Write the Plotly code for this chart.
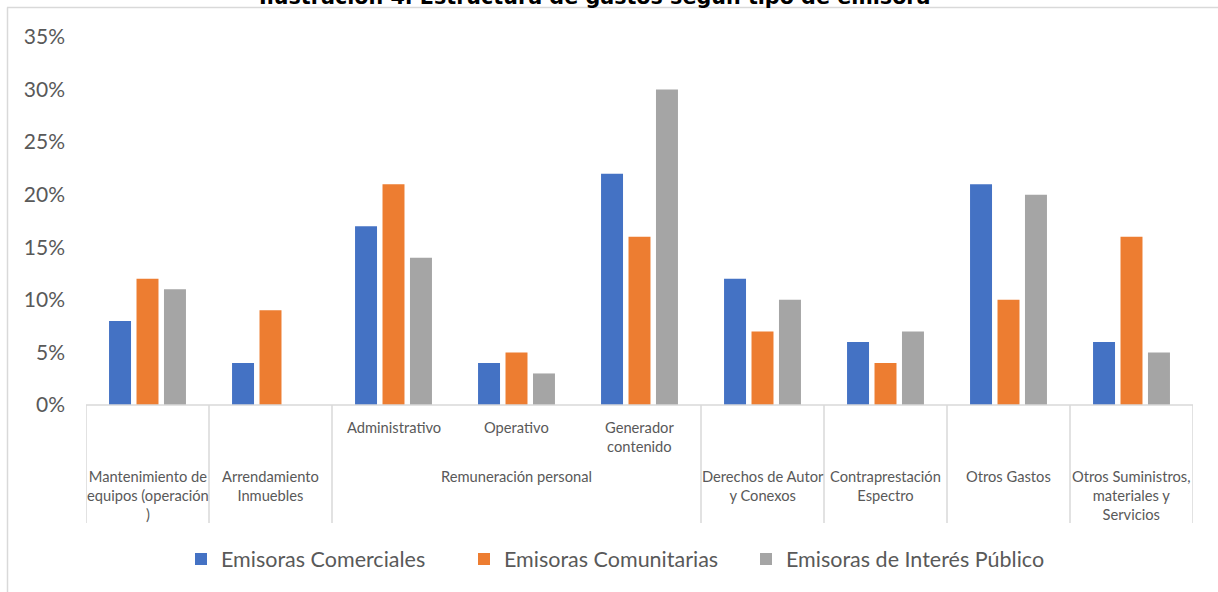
import plotly.graph_objects as go

# Expense categories (inner label, outer label)
inner_labels = ["", "", "Administrativo", "Operativo", "Generador<br>contenido", "", "", "", ""]
outer_groups = [
    ("Mantenimiento de<br>equipos (operación<br>)", 0, 0),
    ("Arrendamiento<br>Inmuebles", 1, 1),
    ("Remuneración personal", 2, 4),
    ("Derechos de Autor<br>y Conexos", 5, 5),
    ("Contraprestación<br>Espectro", 6, 6),
    ("Otros Gastos", 7, 7),
    ("Otros Suministros,<br>materiales y<br>Servicios", 8, 8),
]
categories = ["Mantenimiento", "Arrendamiento", "Administrativo", "Operativo",
              "Generador contenido", "Derechos de Autor", "Contraprestación",
              "Otros Gastos", "Otros Suministros"]

comerciales = [0.08, 0.04, 0.17, 0.04, 0.22, 0.12, 0.06, 0.21, 0.06]
comunitarias = [0.12, 0.09, 0.21, 0.05, 0.16, 0.07, 0.04, 0.10, 0.16]
interes_publico = [0.11, None, 0.14, 0.03, 0.30, 0.10, 0.07, 0.20, 0.05]

series = [
    ("Emisoras Comerciales", comerciales, "#4472C4"),
    ("Emisoras Comunitarias", comunitarias, "#ED7D31"),
    ("Emisoras de Interés Público", interes_publico, "#A5A5A5"),
]

FONT = "Lato"
GRID = "#D9D9D9"
TEXT = "#595959"

W, L, R = 1218, 86, 25
H, T, B = 592, 37, 187
pw = W - L - R
ph = H - T - B
def py(px):
    return (H - B - px) / ph
def px_(x):
    return (x - L) / pw

# one legend box per series, laid out in a row under the chart
legend_ids = ["legend", "legend2", "legend3"]
legend_left = [181, 464, 746]

fig = go.Figure()
for (name, vals, color), lid in zip(series, legend_ids):
    fig.add_trace(go.Bar(
        x=list(range(len(categories))), y=vals, name=name,
        marker=dict(color=color, line=dict(width=0)),
        hovertext=categories, legend=lid,
    ))

shapes = []
# category table: baseline and vertical dividers
shapes.append(dict(type="line", xref="x", yref="paper", x0=-0.5, x1=8.5, y0=0, y1=0,
                   line=dict(color=GRID, width=1.5)))
for b in [-0.5, 0.5, 1.5, 4.5, 5.5, 6.5, 7.5, 8.5]:
    shapes.append(dict(type="line", xref="x", yref="paper", x0=b, x1=b,
                       y0=0, y1=py(523), line=dict(color=GRID, width=1.5)))
# outer chart border
shapes.append(dict(type="line", xref="paper", yref="paper",
                   x0=px_(7), x1=px_(1220), y0=py(7.5), y1=py(7.5),
                   line=dict(color=GRID, width=1.5)))
shapes.append(dict(type="line", xref="paper", yref="paper",
                   x0=px_(7.5), x1=px_(7.5), y0=py(7.5), y1=py(600),
                   line=dict(color=GRID, width=1.5)))

annotations = []
for i, lab in enumerate(inner_labels):
    if lab:
        annotations.append(dict(x=i, y=py(416), xref="x", yref="paper", text=lab,
                                showarrow=False, yanchor="top",
                                font=dict(family=FONT, size=14.7, color=TEXT)))
for lab, a, b in outer_groups:
    annotations.append(dict(x=(a + b) / 2, y=py(465), xref="x", yref="paper", text=lab,
                            showarrow=False, yanchor="top",
                            font=dict(family=FONT, size=14.7, color=TEXT)))
annotations.append(dict(x=px_(595), y=py(11), xref="paper", yref="paper",
                        text="<b>Ilustración 4. Estructura de gastos según tipo de emisora</b>",
                        showarrow=False, yanchor="bottom",
                        font=dict(family="DejaVu Sans", size=20.7, color="#000000")))

legend_style = dict(orientation="h", xref="container", xanchor="left",
                    yref="container", y=(592 - 559) / 592, yanchor="middle",
                    font=dict(family=FONT, size=21.5, color=TEXT), itemwidth=30)

fig.update_layout(
    width=W, height=H,
    margin=dict(l=L, r=R, t=T, b=B),
    paper_bgcolor="white", plot_bgcolor="white",
    barmode="group", bargap=0.33, bargroupgap=0.2,
    font=dict(family=FONT, color=TEXT),
    shapes=shapes, annotations=annotations,
    showlegend=True,
    legend=dict(x=legend_left[0] / W, **legend_style),
    legend2=dict(x=legend_left[1] / W, **legend_style),
    legend3=dict(x=legend_left[2] / W, **legend_style),
    xaxis=dict(range=[-0.5, 8.5], showticklabels=False, showgrid=False,
               zeroline=False, showline=False, ticks=""),
    yaxis=dict(range=[0, 0.35], dtick=0.05, tickformat=".0%", showgrid=False,
               zeroline=False, showline=False, ticks="",
               tickfont=dict(family=FONT, size=21, color=TEXT),
               ticklabelstandoff=20),
)

fig.write_html("out.html")
